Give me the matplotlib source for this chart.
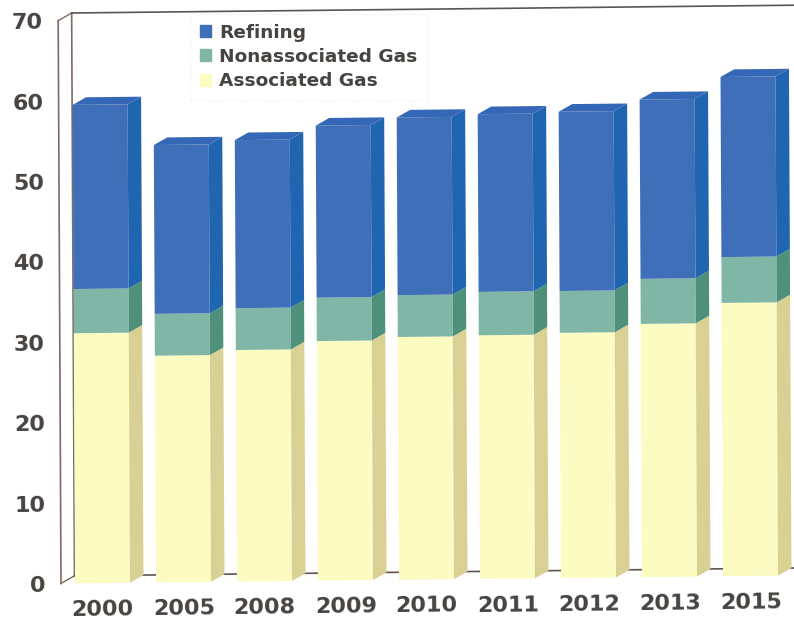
import matplotlib
matplotlib.use("Agg")
import matplotlib.pyplot as plt
from matplotlib.patches import Patch
from matplotlib.transforms import Affine2D
import numpy as np

years = ["2000", "2005", "2008", "2009", "2010", "2011", "2012", "2013", "2015"]
associated = [31.1, 28.2, 28.8, 29.8, 30.2, 30.3, 30.5, 31.5, 34.0]
nonassociated = [5.5, 5.2, 5.2, 5.4, 5.2, 5.4, 5.2, 5.6, 5.7]
refining = [22.9, 21.0, 20.9, 21.4, 22.1, 22.1, 22.3, 22.3, 22.4]
y_ticks = [0, 10, 20, 30, 40, 50, 60, 70]

W, H = 794, 624
fig = plt.figure(figsize=(W / 100, H / 100), dpi=100, facecolor="white")
# Axes geometry in pixels: 81 px per category, 8.04 px per unit
px_x, px_y = 81.0, 8.04
x0_px, y0_px = 102.5, 583.0
left_px, right_px = 61.0, 794.0
ax = fig.add_axes([left_px / W, (H - y0_px) / H, (right_px - left_px) / W, 70 * px_y / H])
ax.set_xlim((left_px - x0_px) / px_x, (right_px - x0_px) / px_x)
ax.set_ylim(0, 70)

# The reference is a slightly skewed scan
kx, ky = 0.005, 0.0108
cx, cy = x0_px, H - y0_px
shear = Affine2D(np.array([[1, -kx, kx * cy], [ky, 1, -ky * cx], [0, 0, 1]]))
tr = ax.transData + shear

w = 55 / px_x
dx, dy = 13.5 / px_x, 7.5 / px_y
xs = np.arange(len(years))
xl, xr = ax.get_xlim()

# Chart walls
wall = "#7d6a60"
ax.plot([xl, xl], [0, 70], color=wall, lw=1.2, transform=tr, clip_on=False, zorder=1)
ax.plot([xl + dx, xl + dx], [dy, 70 + dy], color=wall, lw=1.2, transform=tr, clip_on=False, zorder=1)
ax.plot([xl, xl + dx], [70, 70 + dy], color=wall, lw=1.0, transform=tr, clip_on=False, zorder=1)
ax.plot([xl, xl + dx], [0, dy], color=wall, lw=1.0, transform=tr, clip_on=False, zorder=1)
ax.plot([xl + dx, xr + 1], [70 + dy, 70 + dy], color="#5a5550", lw=1.2, transform=tr, clip_on=False, zorder=1)
ax.plot([xl + dx, xr + 1], [dy, dy], color="#5f5450", lw=1.2, transform=tr, clip_on=False, zorder=1)

series = [
    (associated, "Associated Gas", "#fbfbc2", "#d9d093"),
    (nonassociated, "Nonassociated Gas", "#7fb6a6", "#4e9079"),
    (refining, "Refining", "#406fb9", "#1f65b0"),
]
bottom = np.zeros(len(years))
for vals, label, front, side in series:
    vals = np.array(vals)
    ax.bar(xs, vals, w, bottom=bottom, color=front, linewidth=0, transform=tr, clip_on=False, zorder=3)
    for i, xc in enumerate(xs):
        xa = xc + w / 2
        b, t = bottom[i], bottom[i] + vals[i]
        ax.fill([xa, xa + dx, xa + dx, xa], [b, b + dy, t + dy, t], color=side, lw=0,
                transform=tr, clip_on=False, zorder=3)
    bottom = bottom + vals
# Top faces of the stacks
for i, xc in enumerate(xs):
    xa, xb, t = xc - w / 2, xc + w / 2, bottom[i]
    ax.fill([xa, xb, xb + dx, xa + dx], [t, t, t + dy, t + dy], color="#3467b6", lw=0,
            transform=tr, clip_on=False, zorder=3)

# Ticks
for s in ax.spines.values():
    s.set_visible(False)
ax.patch.set_visible(False)
txt = "#474340"
ax.set_xticks(xs, years)
ax.set_yticks(y_ticks, [str(v) for v in y_ticks])
ax.tick_params(axis="both", length=0, labelcolor=txt, labelsize=16)
ax.tick_params(axis="x", pad=12)
ax.tick_params(axis="y", pad=11)
for lab in ax.get_xticklabels() + ax.get_yticklabels():
    lab.set_fontfamily("DejaVu Sans")
    lab.set_fontweight("bold")
    lab.set_rotation(0.6)
    lab.set_rotation_mode("anchor")
    lab.set_transform(lab.get_transform() + shear)

handles = [Patch(color=s[2], label=s[1]) for s in reversed(series)]
leg = ax.legend(handles=handles, loc="upper left", bbox_to_anchor=(190 / W, 1 - 14 / H),
                bbox_transform=fig.transFigure, frameon=True, fancybox=False,
                prop={"family": "DejaVu Sans", "weight": "bold", "size": 13.3},
                labelcolor=txt, handlelength=0.62, handleheight=0.62, handletextpad=0.44,
                labelspacing=0.34, borderpad=0.52, borderaxespad=0, framealpha=1)
leg.get_frame().set_edgecolor("#ececec")
leg.get_frame().set_linestyle(":")
leg.get_frame().set_linewidth(0.8)
leg.set_zorder(5)

fig.savefig("out.png", dpi=100)
